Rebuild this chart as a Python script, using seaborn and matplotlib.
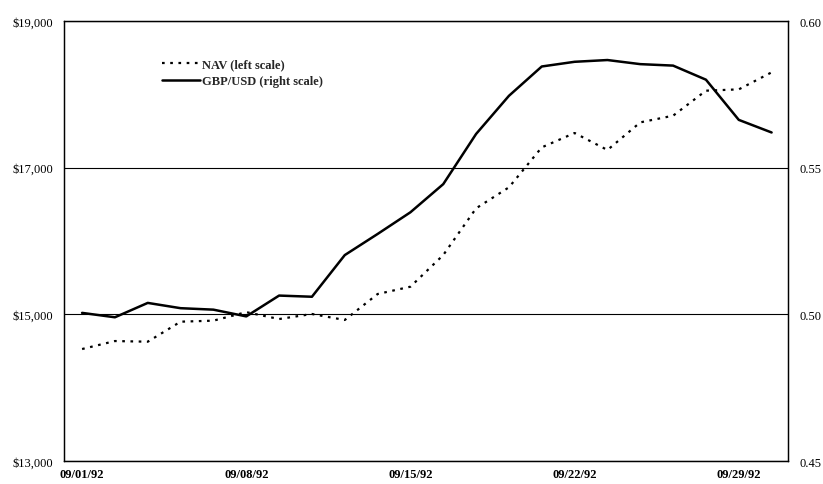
import matplotlib
matplotlib.use("Agg")
import matplotlib.pyplot as plt
import seaborn as sns
import pandas as pd
from matplotlib.ticker import FuncFormatter

# business days of September 1992
dates = ["09/01/92", "09/02/92", "09/03/92", "09/04/92", "09/07/92", "09/08/92",
         "09/09/92", "09/10/92", "09/11/92", "09/14/92", "09/15/92", "09/16/92",
         "09/17/92", "09/18/92", "09/21/92", "09/22/92", "09/23/92", "09/24/92",
         "09/25/92", "09/28/92", "09/29/92", "09/30/92"]

nav = [14527, 14636, 14627, 14900, 14914, 15030, 14936, 15005, 14923, 15277, 15377,
       15809, 16446, 16732, 17277, 17473, 17241, 17618, 17709, 18050, 18068, 18300]

gbp_usd = [0.5005, 0.4990, 0.5039, 0.5021, 0.5016, 0.4993, 0.5064, 0.5060, 0.5202,
           0.5274, 0.5348, 0.5444, 0.5615, 0.5745, 0.5845, 0.5861, 0.5867, 0.5853,
           0.5848, 0.5800, 0.5663, 0.5620]

tick_dates = ["09/01/92", "09/08/92", "09/15/92", "09/22/92", "09/29/92"]

df = pd.DataFrame({"day": range(len(dates)), "date": dates, "nav": nav, "gbp": gbp_usd})

sns.set_style("white")
plt.rcParams["font.family"] = ["Liberation Serif", "DejaVu Serif"]

fig = plt.figure(figsize=(8.23, 4.85), dpi=100)
ax = fig.add_axes([0.0778, 0.0474, 0.8797, 0.9072])
ax2 = ax.twinx()

sns.lineplot(data=df, x="day", y="nav", ax=ax, color="black", linestyle=(0, (1.2, 2.5)),
             linewidth=1.6, label="NAV (left scale)", legend=False)
sns.lineplot(data=df, x="day", y="gbp", ax=ax2, color="black", linewidth=1.8,
             label="GBP/USD (right scale)", legend=False)

ax.set_ylim(13000, 19000)
ax.set_yticks([13000, 15000, 17000, 19000])
ax.yaxis.set_major_formatter(FuncFormatter(lambda v, p: f"${v:,.0f}"))
ax2.set_ylim(0.45, 0.60)
ax2.set_yticks([0.45, 0.50, 0.55, 0.60])
ax2.yaxis.set_major_formatter(FuncFormatter(lambda v, p: f"{v:.2f}"))

ax.set_xlim(-0.55, 21.5)
ticks = [dates.index(d) for d in tick_dates]
ax.set_xticks(ticks)
ax.set_xticklabels(tick_dates)

ax.grid(axis="y", color="black", linewidth=0.8)
ax.set_axisbelow(True)

for a in (ax, ax2):
    a.set_xlabel("")
    a.set_ylabel("")
    for s in a.spines.values():
        s.set_color("black")
        s.set_linewidth(0.9)
    a.tick_params(length=0, labelsize=9, colors="black")
ax.tick_params(axis="y", pad=8)
ax2.tick_params(axis="y", pad=8)
ax.tick_params(axis="x", pad=5)
for t in ax.get_xticklabels():
    t.set_fontweight("bold")

handles = ax.get_lines()[:1] + ax2.get_lines()[:1]
leg = ax.legend(handles, [h.get_label() for h in handles], loc="upper left",
                bbox_to_anchor=(0.12, 0.94), frameon=False, handlelength=3.0,
                handletextpad=0.2, labelspacing=0.35,
                prop={"weight": "bold", "size": 9})

fig.savefig("out.png", dpi=100)
